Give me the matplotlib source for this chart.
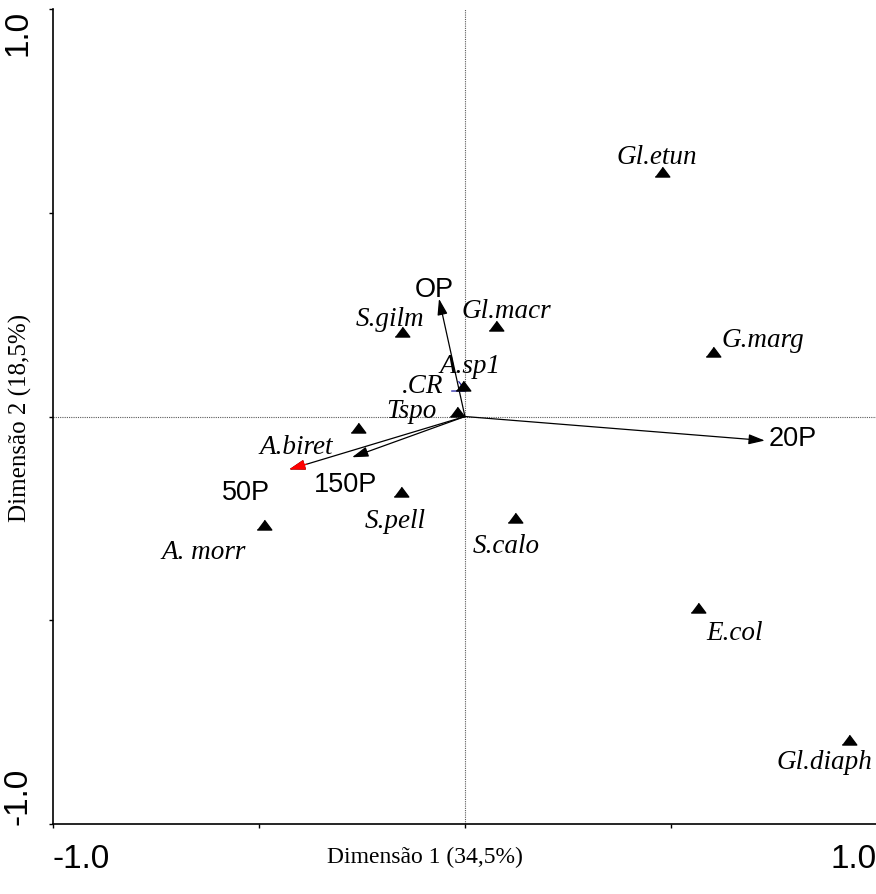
import matplotlib
matplotlib.use('Agg')
import matplotlib.pyplot as plt

# species scores (dimension 1, dimension 2)
species = ['Gl.etun', 'G.marg', 'Gl.macr', 'S.gilm', 'A.sp1', 'Tspo',
           'A.biret', 'S.pell', 'A. morr', 'S.calo', 'E.col', 'Gl.diaph']
sp_x = [0.478, 0.602, 0.075, -0.153, -0.005, -0.019,
        -0.260, -0.155, -0.488, 0.121, 0.566, 0.932]
sp_y = [0.600, 0.159, 0.221, 0.208, 0.074, 0.012,
        -0.027, -0.186, -0.267, -0.248, -0.471, -0.794]

# supplementary point
cr_name = '.CR'
cr_x = -0.017
cr_y = 0.074

# environmental arrows
env = ['OP', '20P', '50P', '150P']
env_x = [-0.063, 0.728, -0.427, -0.274]
env_y = [0.289, -0.059, -0.130, -0.100]

# label offsets in points (layout only)
sp_off = [(-3.6, 6.5), (36, 4.3), (7.2, 6.5), (-8.6, 5), (5, 10), (-33, -3.6),
          (-44.6, -18), (-4.3, -25.2), (-43.2, -23.8), (-5.8, -24.5),
          (26.6, -22.3), (-17.3, -20.2)]
cr_off = (-25.2, -4.3)
env_off = [(-3.6, 2.2), (20, -2.9), (-31, -20.9), (-5, -24.5)]
env_head = ['black', 'black', 'red', 'black']

tri = [(-1, -0.62), (1, -0.62), (0, 0.72)]
head = '-|>,head_length=0.7,head_width=0.22'

fig = plt.figure(figsize=(8.76, 8.95), dpi=100)
ax = fig.add_axes([0.0605, 0.0782, 0.9405, 0.9106])
ax.set_xlim(-1.0, 1.0)
ax.set_ylim(-1.0, 1.0)

ax.axhline(0, color='0.35', lw=0.8, ls=(0, (1, 1)), zorder=1)
ax.axvline(0, color='0.35', lw=0.8, ls=(0, (1, 1)), zorder=1)

# arrows
for name, x, y, off, hc in zip(env, env_x, env_y, env_off, env_head):
    ax.annotate('', xy=(x, y), xytext=(0, 0),
                arrowprops=dict(arrowstyle=head, color='black', lw=0.9,
                                mutation_scale=14, shrinkA=0, shrinkB=0),
                zorder=3)
    if hc != 'black':
        ax.annotate('', xy=(x, y), xytext=(x * 0.9, y * 0.9),
                    arrowprops=dict(arrowstyle=head, color=hc, lw=0.9,
                                    mutation_scale=14, shrinkA=0, shrinkB=0),
                    zorder=4)
    ax.annotate(name, xy=(x, y), xytext=off, textcoords='offset points',
                ha='center', va='baseline', fontsize=19.5,
                family='Liberation Sans', zorder=5)

# species
ax.plot(sp_x, sp_y, ls='none', marker=tri, ms=10.5, color='black', zorder=4)
for name, x, y, off in zip(species, sp_x, sp_y, sp_off):
    ax.annotate(name, xy=(x, y), xytext=off, textcoords='offset points',
                ha='center', va='baseline', fontsize=19.5, style='italic',
                family='Liberation Serif', zorder=5)

ax.plot([cr_x], [cr_y], ls='none', marker=tri, ms=10.5, mfc='none',
        mec='#1a1aa0', mew=0.9, zorder=3)
ax.annotate(cr_name, xy=(cr_x, cr_y), xytext=cr_off, textcoords='offset points',
            ha='center', va='baseline', fontsize=19.5, style='italic',
            family='Liberation Serif', zorder=5)

# axes styling
for s in ['top', 'right']:
    ax.spines[s].set_visible(False)
for s in ['left', 'bottom']:
    ax.spines[s].set_linewidth(1.2)

ticks = [-1.0, -0.5, 0.0, 0.5, 1.0]
ax.set_xticks(ticks)
ax.set_yticks(ticks)
ax.set_xticklabels(['-1.0', '', '', '', '1.0'], family='Liberation Sans', fontsize=24)
ax.set_yticklabels(['-1.0', '', '', '', '1.0'], family='Liberation Sans', fontsize=24,
                   rotation=90)
ax.tick_params(direction='out', length=3, width=1, pad=11)
xl = ax.get_xticklabels()
xl[0].set_ha('left')
xl[-1].set_ha('right')
yl = ax.get_yticklabels()
yl[0].set_va('bottom')
yl[-1].set_va('top')

ax.set_xlabel('Dimensão 1 (34,5%)', family='Liberation Serif', fontsize=17)
ax.set_ylabel('Dimensão 2 (18,5%)', family='Liberation Serif', fontsize=18)
ax.xaxis.set_label_coords(0.451, -0.027)
ax.yaxis.set_label_coords(-0.026, 0.5)

fig.savefig('out.png', dpi=100)
